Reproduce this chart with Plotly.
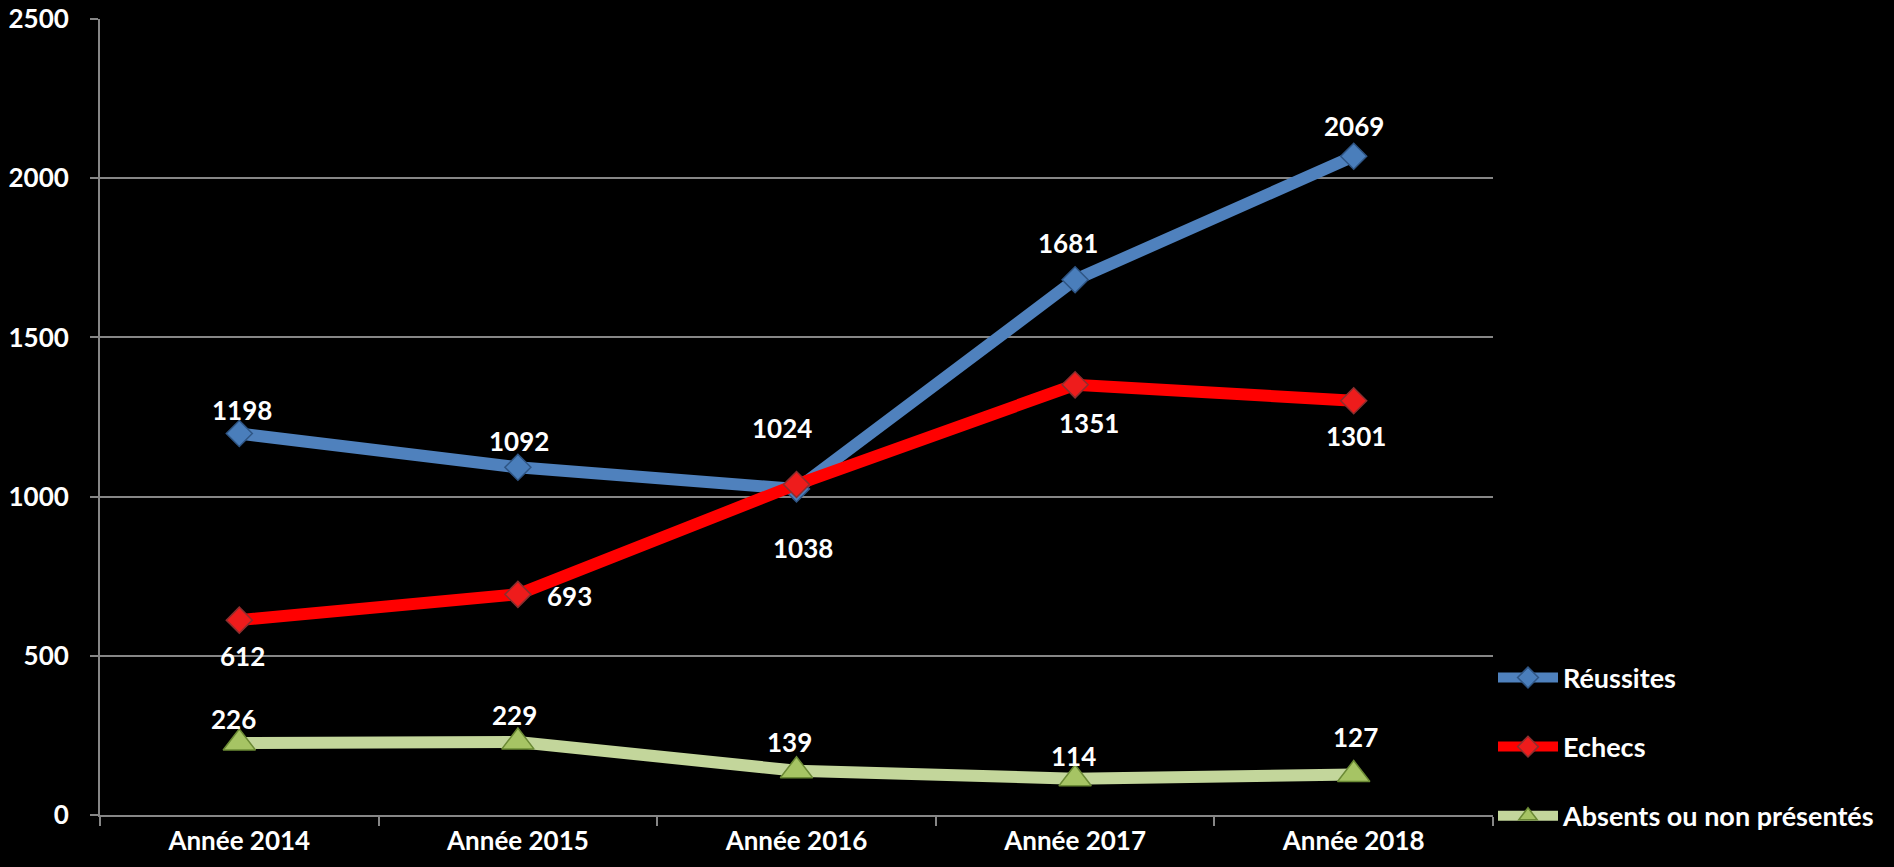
import plotly.graph_objects as go

categories = ["Année 2014", "Année 2015", "Année 2016", "Année 2017", "Année 2018"]
reussites = [1198, 1092, 1024, 1681, 2069]
echecs = [612, 693, 1038, 1351, 1301]
absents = [226, 229, 139, 114, 127]

y_ticks = [0, 500, 1000, 1500, 2000, 2500]

# label offsets in pixels (dx, dy) relative to each point (screen: +dy = down)
off_reussites = [(3, -24), (1, -26), (-15, -61), (-7, -37), (0, -30)]
off_echecs = [(3, 36), (52, 2), (6, 63), (14, 38), (2, 35)]
off_absents = [(-6, -24), (-3, -27), (-7, -29), (-2, -23), (2, -38)]

FONT = "Lato"
WHITE = "#FFFFFF"
GRID = "#868686"
FS = 26

fig = go.Figure()

series = [
    ("Réussites", reussites, "#4F81BD", "diamond", 20, "#4A7EBB", "#2F5584"),
    ("Echecs", echecs, "#FF0000", "diamond", 20, "#EE1C1C", "#8C2E2E"),
    ("Absents ou non présentés", absents, "#C3D69B", "triangle-up", 28, "#A6C464", "#6B8A35"),
]

for i, (name, vals, lc, sym, sz, mc, mlc) in enumerate(series):
    fig.add_trace(go.Scatter(
        x=categories, y=vals, name=name, mode="lines+markers",
        legendgroup=name,
        line=dict(color=lc, width=12),
        marker=dict(symbol=sym, size=sz, color=mc,
                    line=dict(color=mlc, width=1.5)),
        cliponaxis=False,
        hoverinfo="skip",
    ))

annotations = []
for vals, offs in [(reussites, off_reussites), (echecs, off_echecs), (absents, off_absents)]:
    for c, v, (dx, dy) in zip(categories, vals, offs):
        annotations.append(dict(
            x=c, y=v, text=str(v), showarrow=False,
            xshift=dx, yshift=-dy,
            font=dict(family=FONT, size=FS, color=WHITE, weight="bold"),
        ))

fig.update_layout(
    width=1894, height=867,
    paper_bgcolor="#000000", plot_bgcolor="#000000",
    margin=dict(l=100, r=401, t=19, b=52, autoexpand=False),
    font=dict(family=FONT, size=FS, color=WHITE, weight="bold"),
    showlegend=True,
    legend=dict(
        x=1.0, xanchor="left", y=-0.032, yanchor="bottom",
        bgcolor="rgba(0,0,0,0)",
        font=dict(family=FONT, size=27, color=WHITE, weight="bold"),
        itemwidth=60, tracegroupgap=31,
        traceorder="grouped",
    ),
    annotations=annotations,
)

fig.update_xaxes(
    type="category", categoryorder="array", categoryarray=categories,
    range=[-0.5, 4.5], automargin=False,
    showline=True, linecolor=GRID, linewidth=2,
    ticks="outside", tickson="boundaries", ticklen=9, tickcolor=GRID, tickwidth=2,
    showgrid=False, zeroline=False,
    tickfont=dict(family=FONT, size=FS, color=WHITE, weight="bold"),
    ticklabelstandoff=2,
)
fig.update_yaxes(
    range=[0, 2500], tickvals=y_ticks, automargin=False,
    showline=True, linecolor=GRID, linewidth=2,
    ticks="outside", ticklen=8, tickcolor=GRID, tickwidth=2,
    showgrid=True, gridcolor=GRID, gridwidth=2, zeroline=False,
    tickfont=dict(family=FONT, size=FS, color=WHITE, weight="bold"),
    ticklabelstandoff=16,
)

fig.write_html(
    "out.html",
    config={"displayModeBar": False},
    post_script="document.body.style.margin='0';document.body.style.background='#000';",
)
